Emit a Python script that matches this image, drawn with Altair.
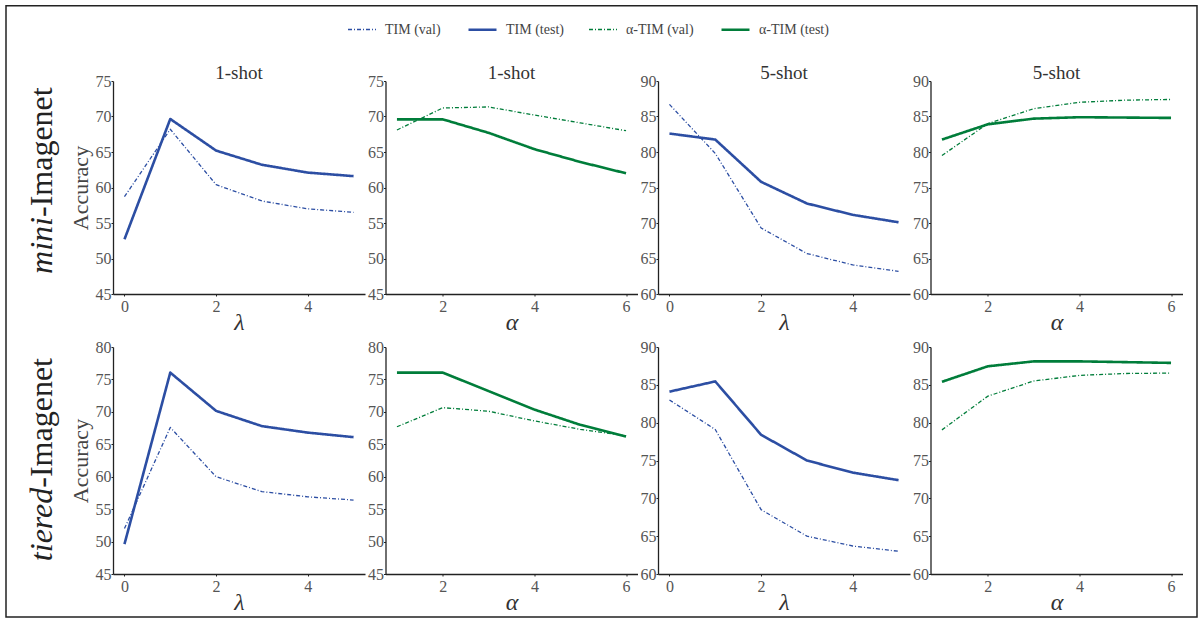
import altair as alt
import pandas as pd

# ---------------- data ----------------
lam = [0, 1, 2, 3, 4, 5]
alpha = [1, 2, 3, 4, 5, 6]
series_names = ["TIM (val)", "TIM (test)", "α-TIM (val)", "α-TIM (test)"]

mini_1shot_lam_val = [58.7, 68.2, 60.4, 58.1, 57.0, 56.5]
mini_1shot_lam_test = [52.7, 69.65, 65.2, 63.2, 62.1, 61.6]
mini_1shot_alpha_val = [68.1, 71.2, 71.35, 70.2, 69.1, 68.0]
mini_1shot_alpha_test = [69.6, 69.6, 67.7, 65.4, 63.6, 62.0]
mini_5shot_lam_val = [86.7, 79.8, 69.3, 65.7, 64.1, 63.2]
mini_5shot_lam_test = [82.6, 81.75, 75.8, 72.75, 71.15, 70.1]
mini_5shot_alpha_val = [79.5, 84.0, 86.1, 87.0, 87.3, 87.4]
mini_5shot_alpha_test = [81.75, 83.9, 84.7, 84.9, 84.85, 84.8]

tiered_1shot_lam_val = [52.0, 67.6, 60.0, 57.7, 56.9, 56.4]
tiered_1shot_lam_test = [49.6, 76.05, 70.15, 67.8, 66.8, 66.1]
tiered_1shot_alpha_val = [67.7, 70.65, 70.1, 68.6, 67.3, 66.3]
tiered_1shot_alpha_test = [76.05, 76.05, 73.2, 70.35, 68.0, 66.2]
tiered_5shot_lam_val = [83.0, 79.1, 68.5, 65.0, 63.7, 63.0]
tiered_5shot_lam_test = [84.1, 85.45, 78.4, 75.0, 73.4, 72.4]
tiered_5shot_alpha_val = [79.05, 83.5, 85.5, 86.25, 86.5, 86.55]
tiered_5shot_alpha_test = [85.4, 87.45, 88.1, 88.1, 88.0, 87.9]

panel_titles = ["1-shot", "1-shot", "5-shot", "5-shot"]
row_labels = [("mini", "-Imagenet"), ("tiered", "-Imagenet")]

# ---------------- style ----------------
BLUE = "#2C4EA3"
GREEN = "#007D3A"
FONT = "'Liberation Serif', 'Times New Roman', serif"
W = 252
H1 = 213
H2 = 227
DASH = [4, 2, 1, 2]

color_scale = alt.Scale(domain=series_names, range=[BLUE, BLUE, GREEN, GREEN])
dash_scale = alt.Scale(domain=series_names, range=[DASH, [1, 0], DASH, [1, 0]])
width_scale = alt.Scale(type="ordinal", domain=series_names, range=[1.3, 2.6, 1.3, 2.6])


def panel(xs, val, test, method, ydom, xkind, h, title=None, ytitle=None):
    vname, tname = (series_names[0], series_names[1]) if method == "TIM" else (series_names[2], series_names[3])
    df = pd.DataFrame({"x": xs + xs, "y": val + test, "series": [vname] * len(xs) + [tname] * len(xs)})
    if xkind == "lam":
        xdom, xticks, xtitle = [-0.25, 5.25], [0, 2, 4], "λ"
    else:
        xdom, xticks, xtitle = [0.75, 6.25], [2, 4, 6], "α"
    yticks = list(range(ydom[0], ydom[1] + 1, 5))
    yaxis = alt.Axis(values=yticks, title=ytitle, labelPadding=0, titleFontSize=22,
                     titleColor="#444", titlePadding=3, titleFontWeight="normal")
    ch = alt.Chart(df).mark_line(strokeCap="butt", strokeJoin="round").encode(
        x=alt.X("x:Q", scale=alt.Scale(domain=xdom, nice=False, zero=False),
                axis=alt.Axis(values=xticks, title=xtitle, labelPadding=2, titleFontSize=24,
                              titleFontStyle="italic", titleFontWeight="normal", titlePadding=-4,
                              titleColor="#333")),
        y=alt.Y("y:Q", scale=alt.Scale(domain=list(ydom), nice=False, zero=False), axis=yaxis),
        color=alt.Color("series:N", scale=color_scale, legend=alt.Legend(title=None)),
        strokeDash=alt.StrokeDash("series:N", scale=dash_scale, legend=alt.Legend(title=None)),
        strokeWidth=alt.StrokeWidth("series:N", scale=width_scale, legend=alt.Legend(title=None)),
    )
    props = dict(width=W, height=h)
    if title:
        props["title"] = alt.TitleParams(title, font=FONT, fontSize=19, fontWeight="normal",
                                         color="#333", offset=-10)
    return ch.properties(**props)


def row_label(parts, y):
    it = alt.Chart(pd.DataFrame({"t": [parts[0]]})).mark_text(
        angle=270, align="right", baseline="middle", font=FONT, fontSize=32,
        fontStyle="italic", color="#222").encode(text="t:N", x=alt.value(-71), y=alt.value(y))
    rm = alt.Chart(pd.DataFrame({"t": [parts[1]]})).mark_text(
        angle=270, align="left", baseline="middle", font=FONT, fontSize=32,
        color="#222").encode(text="t:N", x=alt.value(-71), y=alt.value(y))
    return it + rm


# figure frame, positioned relative to the lower-left panel
border = alt.Chart(pd.DataFrame({"a": [0]})).mark_rect(
    fillOpacity=0, stroke="#222", strokeWidth=1.5).encode(
    x=alt.value(-107), x2=alt.value(1084), y=alt.value(-341.25), y2=alt.value(270))

p1 = alt.layer(panel(lam, mini_1shot_lam_val, mini_1shot_lam_test, "TIM", (45, 75), "lam", H1,
                     panel_titles[0], "Accuracy"), row_label(row_labels[0], 136))
p2 = panel(alpha, mini_1shot_alpha_val, mini_1shot_alpha_test, "aTIM", (45, 75), "alpha", H1, panel_titles[1])
p3 = panel(lam, mini_5shot_lam_val, mini_5shot_lam_test, "TIM", (60, 90), "lam", H1, panel_titles[2])
p4 = panel(alpha, mini_5shot_alpha_val, mini_5shot_alpha_test, "aTIM", (60, 90), "alpha", H1, panel_titles[3])

q1 = alt.layer(panel(lam, tiered_1shot_lam_val, tiered_1shot_lam_test, "TIM", (45, 80), "lam", H2,
                     None, "Accuracy"), row_label(row_labels[1], 140.7), border)
q2 = panel(alpha, tiered_1shot_alpha_val, tiered_1shot_alpha_test, "aTIM", (45, 80), "alpha", H2)
q3 = panel(lam, tiered_5shot_lam_val, tiered_5shot_lam_test, "TIM", (60, 90), "lam", H2)
q4 = panel(alpha, tiered_5shot_alpha_val, tiered_5shot_alpha_test, "aTIM", (60, 90), "alpha", H2)

chart = alt.concat(p1, p2, p3, p4, q1, q2, q3, q4, columns=4,
                   spacing={"row": 53, "column": 20.5}, bounds="flush").properties(
    padding={"left": 5, "top": 5, "right": 5, "bottom": 0}
).configure_view(stroke=None).configure_axis(
    domainColor="#222", domainWidth=1.3, tickColor="#222", tickSize=2, tickWidth=1,
    labelFont=FONT, labelFontSize=16, labelColor="#555", titleFont=FONT, grid=False
).configure_legend(
    orient="none", legendX=234, legendY=-67, direction="horizontal", labelFont=FONT,
    labelFontSize=14, labelColor="#444", symbolSize=784, symbolType="stroke",
    labelOffset=8, columnPadding=22, symbolStrokeWidth=1.5
)

chart.save("out.html", embed_options={"renderer": "svg", "actions": False})
